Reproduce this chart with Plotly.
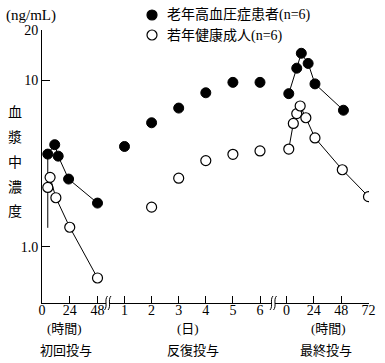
import math
import plotly.graph_objects as go

# ---------------- data ----------------
first_ticks = [0, 24, 48]
repeat_ticks = [1, 2, 3, 4, 5, 6]
last_ticks = [0, 24, 48, 72]

first_h_old = [5, 11, 14, 23, 48]
first_c_old = [3.6, 4.1, 3.5, 2.55, 1.83]
first_h_young = [5, 7, 12, 24, 48]
first_c_young = [2.27, 2.61, 1.97, 1.31, 0.65]
rise_h = [5, 5]
rise_c = [1.3, 3.5]

repeat_d_old = [1, 2, 3, 4, 5, 6]
repeat_c_old = [4.0, 5.55, 6.8, 8.4, 9.7, 9.7]
repeat_d_young = [2, 3, 4, 5, 6]
repeat_c_young = [1.73, 2.58, 3.29, 3.59, 3.76]

last_h_old = [2, 9, 13, 19, 25, 50]
last_c_old = [8.3, 11.8, 14.5, 12.6, 9.5, 6.6]
last_h_young = [2, 6, 9, 12, 17, 25, 49, 72]
last_c_young = [3.86, 5.5, 6.3, 7.0, 5.95, 4.5, 2.9, 2.0]

y_ticks = [1, 10, 20]
y_ticktext = ["1.0", "10", "20"]

name_old = "老年高血圧症患者(n=6)"
name_young = "若年健康成人(n=6)"

# ---------------- layout geometry ----------------
W, H = 385, 363
L, R, T, B = 42, 369, 30, 303   # plot area in pixels


def px(x):
    return (x - L) / (R - L)


def py(y):
    return (B - y) / (B - T)


SERIF = "Liberation Serif, Noto Sans CJK JP"
CJK = "Noto Sans CJK JP"

filled = dict(symbol="circle", size=10, color="black", line=dict(color="black", width=1))
hollow = dict(symbol="circle", size=10, color="white", line=dict(color="black", width=1.2))
lw = dict(color="black", width=1)

fig = go.Figure()
# segment 1
fig.add_trace(go.Scatter(x=rise_h, y=rise_c, mode="lines", line=lw, xaxis="x", yaxis="y",
                         hoverinfo="skip"))
fig.add_trace(go.Scatter(x=first_h_old, y=first_c_old, mode="lines+markers", line=lw,
                         marker=filled, xaxis="x", yaxis="y", name=name_old))
fig.add_trace(go.Scatter(x=first_h_young, y=first_c_young, mode="lines+markers", line=lw,
                         marker=hollow, xaxis="x", yaxis="y", name=name_young))
# segment 2
fig.add_trace(go.Scatter(x=repeat_d_old, y=repeat_c_old, mode="markers", marker=filled,
                         xaxis="x2", yaxis="y", name=name_old))
fig.add_trace(go.Scatter(x=repeat_d_young, y=repeat_c_young, mode="markers", marker=hollow,
                         xaxis="x2", yaxis="y", name=name_young))
# segment 3
fig.add_trace(go.Scatter(x=last_h_old, y=last_c_old, mode="lines+markers", line=lw,
                         marker=filled, xaxis="x3", yaxis="y", name=name_old))
fig.add_trace(go.Scatter(x=last_h_young, y=last_c_young, mode="lines+markers", line=lw,
                         marker=hollow, xaxis="x3", yaxis="y", name=name_young))

# segment pixel extents
s1 = (L, 106)
s2 = (109, 272)
s3 = (275, R)
# pixel positions of reference ticks
p1 = (42.0, 97.5, 48)     # 0 -> 42px, 48 -> 97.5px
p2 = (124.5, 260.0, 1, 6)
p3 = (286.5, 368.5, 72)

k1 = (p1[1] - p1[0]) / p1[2]
r1 = [(s1[0] - p1[0]) / k1, (s1[1] - p1[0]) / k1]
k2 = (p2[1] - p2[0]) / (p2[3] - p2[2])
r2 = [p2[2] + (s2[0] - p2[0]) / k2, p2[2] + (s2[1] - p2[0]) / k2]
k3 = (p3[1] - p3[0]) / p3[2]
r3 = [(s3[0] - p3[0]) / k3, (s3[1] - p3[0]) / k3]

axis_common = dict(showline=True, linecolor="black", linewidth=1, ticks="inside", ticklen=7,
                   tickwidth=1, tickcolor="black", showgrid=False, zeroline=False,
                   tickfont=dict(family=SERIF, size=14, color="black"), anchor="y",
                   fixedrange=True, ticklabelstandoff=-6)

fig.update_layout(
    width=W, height=H,
    margin=dict(l=L, r=W - R, t=T, b=H - B, pad=0, autoexpand=False),
    paper_bgcolor="white", plot_bgcolor="white",
    xaxis=dict(domain=[px(s1[0]), px(s1[1])], range=r1, tickvals=first_ticks, **axis_common),
    xaxis2=dict(domain=[px(s2[0]), px(s2[1])], range=r2, tickvals=repeat_ticks, **axis_common),
    xaxis3=dict(domain=[px(s3[0]), px(s3[1])], range=r3, tickvals=last_ticks, **axis_common),
    yaxis=dict(type="log", range=[math.log10(0.46), math.log10(20)], tickvals=y_ticks,
               ticktext=y_ticktext, showline=True, linecolor="black", linewidth=1,
               ticks="inside", ticklen=8, tickcolor="black", showgrid=False, zeroline=False,
               tickfont=dict(family=SERIF, size=14, color="black"), anchor="x",
               fixedrange=True),
    showlegend=False,
)

anns = []
anns.append(dict(text="(ng/mL)", x=px(31), y=py(16), font=dict(family=SERIF, size=15)))
for ch, yy in zip("血漿中濃度", [111, 136, 161, 186, 210]):
    anns.append(dict(text=ch, x=px(15), y=py(yy), font=dict(family=CJK, size=14)))
for txt, xx, yy in [("(時間)", 64, 328), ("(日)", 188, 328), ("(時間)", 328, 328),
                    ("初回投与", 66, 350), ("反復投与", 193, 350), ("最終投与", 326, 350)]:
    anns.append(dict(text=txt, x=px(xx), y=py(yy), font=dict(family=SERIF, size=13)))
# legend (manual)
for txt, yy in [(name_old, 15), (name_young, 35)]:
    anns.append(dict(text=txt, x=px(165), y=py(yy), xanchor="left",
                     font=dict(family=SERIF, size=14)))
for a in anns:
    a.update(xref="paper", yref="paper", showarrow=False, yanchor="middle")
    a.setdefault("xanchor", "center")
    a["font"]["color"] = "black"
fig.update_layout(annotations=anns)

shapes = []
for bx in [106, 109.5, 271.5, 275]:
    path = (f"M {px(bx + 1.5)},{py(296)} C {px(bx - 2)},{py(300)} "
            f"{px(bx + 2)},{py(306)} {px(bx - 1.5)},{py(310)}")
    shapes.append(dict(type="path", path=path, xref="paper", yref="paper",
                       line=dict(color="black", width=1)))
for yy, fill in [(15, "black"), (35, "white")]:
    r = 5
    shapes.append(dict(type="circle", xref="paper", yref="paper",
                       x0=px(152 - r), x1=px(152 + r), y0=py(yy + r), y1=py(yy - r),
                       fillcolor=fill, line=dict(color="black", width=1.2)))
fig.update_layout(shapes=shapes)

fig.write_html("out.html", config={"displayModeBar": False},
               post_script="document.body.style.margin='0';document.body.style.overflow='hidden';")
